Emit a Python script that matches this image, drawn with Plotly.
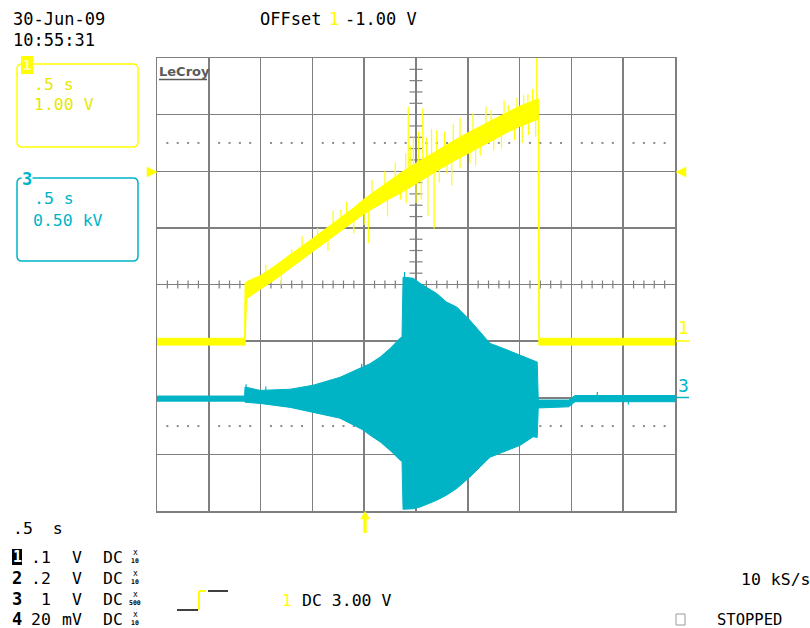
import numpy as np
import plotly.graph_objects as go

# ---------------- data (screen divisions: x -5..5, y -4..4) ----------------
# Channel 1 (yellow) envelope of the trace
yellow_t   = [-5.00, -3.31, -3.30, -3.27, -3.00, -2.75, -2.50, -2.25, -2.00, -1.75, -1.50, -1.25, -1.00, -0.75, -0.50,
              -0.25, 0.00, 0.25, 0.50, 0.75, 1.00, 1.25, 1.50, 1.75, 2.00, 2.20, 2.36, 2.37, 2.385, 5.00]
yellow_top = [-0.95, -0.95, 0.02, 0.05, 0.16, 0.31, 0.48, 0.64, 0.81, 0.98, 1.15, 1.32, 1.51, 1.67, 1.84,
              2.00, 2.14, 2.28, 2.42, 2.55, 2.68, 2.80, 2.92, 3.04, 3.15, 3.22, 3.28, 3.20, -0.95, -0.95]
yellow_bot = [-1.07, -1.07, -1.07, -0.25, -0.08, 0.07, 0.24, 0.40, 0.57, 0.74, 0.91, 1.08, 1.25, 1.39, 1.52,
              1.64, 1.78, 1.92, 2.06, 2.19, 2.32, 2.44, 2.56, 2.68, 2.79, 2.86, 2.92, -1.07, -1.07, -1.07]
# Channel 1 glitches (time, tip)
yellow_spike_t   = [-2.90, -2.40, -2.20, -1.90, -1.60, -1.45, -1.34, -0.85, -0.60, -0.40, -0.20, -0.15, -0.10, -0.05,
                    0.05, 0.13, 0.20, 0.30, 0.40, 0.55, 0.72, 0.85, 1.10, 1.35, 1.45, 1.62, 1.70, 1.78, 1.95, 2.08,
                    2.16, 2.25, 2.33,
                    -2.60, -1.70, -1.20, -1.00, -0.92, -0.55, -0.30, -0.19, 0.00, 0.10, 0.23, 0.35, 0.45, 0.60,
                    0.69, 0.85, 1.04, 1.15, 1.24, 1.50, 1.65, 1.90, 2.05, 2.17, 2.31]
yellow_spike_tip = [0.35, 0.62, 0.85, 1.00, 1.30, 1.32, 1.46, 1.85, 2.00, 2.15, 2.32, 3.14, 2.45, 2.60,
                    2.70, 3.11, 2.60, 2.75, 2.72, 2.70, 2.84, 2.95, 3.02, 3.14, 3.08, 2.99, 3.25, 3.17, 3.30, 3.34,
                    3.36, 3.45, 4.00,
                    0.00, 0.60, 0.90, 1.05, 0.73, 1.20, 1.50, 1.44, 1.44, 1.50, 1.21, 0.99, 1.80, 1.95,
                    1.75, 2.05, 2.14, 2.10, 2.28, 2.37, 2.40, 2.55, 2.50, 2.64, 2.61]

# Channel 3 (cyan) envelope of the trace
cyan_t   = [-5.00, -3.31, -3.30, -3.01, -2.43, -1.99, -1.47, -1.02, -0.89, -0.69, -0.50, -0.31, -0.27, -0.25, -0.05, 0.08, 0.15,
            0.40, 0.59, 0.79, 1.04, 1.24, 1.43, 1.69, 2.01, 2.26, 2.34, 2.36, 2.95, 3.07, 5.00]
cyan_top = [-1.97, -1.97, -1.81, -1.87, -1.85, -1.78, -1.64, -1.46, -1.40, -1.28, -1.13, -0.95, -0.93, 0.13, 0.11, 0.02, -0.02,
            -0.16, -0.31, -0.40, -0.63, -0.84, -1.04, -1.13, -1.25, -1.34, -1.37, -2.04, -2.04, -1.96, -1.96]
cyan_bot = [-2.06, -2.06, -2.08, -2.10, -2.17, -2.26, -2.36, -2.57, -2.66, -2.78, -2.93, -3.10, -3.12, -3.97, -3.96, -3.93, -3.90,
            -3.81, -3.72, -3.60, -3.40, -3.22, -3.05, -2.96, -2.84, -2.69, -2.70, -2.18, -2.16, -2.07, -2.07]
cyan_spike_t   = [-3.28, -2.90, -1.05, -0.22, 2.31, 2.31, 3.50, 4.10]
cyan_spike_tip = [-1.76, -1.80, -1.40, 0.22, -1.37, -2.34, -1.90, -2.12]

# ---------------- styling ----------------
W, H = 810, 628
L, R, T, B = 157, 675, 58, 511
YEL = "#ffff00"
YTXT = "#e8e800"
CYA = "rgb(0,180,198)"
GRID = "#7f7f7f"
MONO = "DejaVu Sans Mono"


def px(x):
    return (x - L) / (R - L)


def py(y):
    return (B - y) / (B - T)


fig = go.Figure()

# graticule: minor ticks on centre axes and dotted cursor rows
minor_x = [k * 0.2 for k in range(-25, 26) if k % 5 != 0]
minor_y = [k * 0.2 for k in range(-20, 21) if k % 5 != 0]
tx, ty = [], []
for v in minor_x:
    tx += [v, v, None]
    ty += [-0.07, 0.07, None]
for v in minor_y:
    tx += [-0.125, 0.125, None]
    ty += [v, v, None]
fig.add_trace(go.Scatter(x=tx, y=ty, mode="lines", line=dict(color=GRID, width=1.2),
                         hoverinfo="skip", showlegend=False))
dx = minor_x + minor_x
dy = [2.5] * len(minor_x) + [-2.5] * len(minor_x)
fig.add_trace(go.Scatter(x=dx, y=dy, mode="markers",
                         marker=dict(symbol="square", size=2, color="#8a8a8a", line=dict(width=0)),
                         hoverinfo="skip", showlegend=False))

# cyan band
fig.add_trace(go.Scatter(x=cyan_t + cyan_t[::-1], y=cyan_top + cyan_bot[::-1], fill="toself",
                         fillcolor=CYA, mode="lines", line=dict(color=CYA, width=1),
                         hoverinfo="skip", showlegend=False))
cmid = [(a + b) / 2 for a, b in zip(cyan_top, cyan_bot)]
sx, sy = [], []
for t, tip in zip(cyan_spike_t, cyan_spike_tip):
    sx += [t, t, None]
    sy += [float(np.interp(t, cyan_t, cmid)), tip, None]
fig.add_trace(go.Scatter(x=sx, y=sy, mode="lines", line=dict(color=CYA, width=1.2),
                         hoverinfo="skip", showlegend=False))

# yellow band
fig.add_trace(go.Scatter(x=yellow_t + yellow_t[::-1], y=yellow_top + yellow_bot[::-1], fill="toself",
                         fillcolor=YEL, mode="lines", line=dict(color=YEL, width=1),
                         hoverinfo="skip", showlegend=False))
ymid = [(a + b) / 2 for a, b in zip(yellow_top, yellow_bot)]
sx, sy = [], []
for t, tip in zip(yellow_spike_t, yellow_spike_tip):
    sx += [t, t, None]
    sy += [float(np.interp(t, yellow_t[3:27], ymid[3:27])), tip, None]
fig.add_trace(go.Scatter(x=sx, y=sy, mode="lines", line=dict(color=YEL, width=1.2),
                         hoverinfo="skip", showlegend=False))

axis_common = dict(showgrid=True, gridcolor=GRID, gridwidth=1.5, zeroline=False,
                   showticklabels=False, ticks="", showline=True, linecolor=GRID,
                   linewidth=1.5, mirror=True, fixedrange=True)
fig.update_xaxes(range=[-5, 5], dtick=1, tick0=0, **axis_common)
fig.update_yaxes(range=[-4, 4], dtick=1, tick0=0, **axis_common)

shapes = []
annots = []


def text(x, y, s, color="black", size=16.5, anchor="left", family=MONO, **kw):
    annots.append(dict(x=px(x), y=py(y), xref="paper", yref="paper", text=s, showarrow=False,
                       xanchor=anchor, yanchor="middle", font=dict(family=family, size=size, color=color),
                       borderpad=0, **kw))


def line(x0, y0, x1, y1, color, width=1.5):
    shapes.append(dict(type="line", xref="paper", yref="paper", x0=px(x0), y0=py(y0), x1=px(x1), y1=py(y1),
                       line=dict(color=color, width=width)))


def rect(x0, y0, x1, y1, fill, color=None, width=0):
    shapes.append(dict(type="rect", xref="paper", yref="paper", x0=px(x0), y0=py(y0), x1=px(x1), y1=py(y1),
                       fillcolor=fill, line=dict(color=color or fill, width=width)))


def poly(pts, fill):
    p = "M" + " L".join(f"{px(a)},{py(b)}" for a, b in pts) + " Z"
    shapes.append(dict(type="path", xref="paper", yref="paper", path=p, fillcolor=fill,
                       line=dict(color=fill, width=0.5)))


def rrect(x0, y0, x1, y1, r, color):
    p = (f"M{px(x0 + r)},{py(y0)} L{px(x1 - r)},{py(y0)} Q{px(x1)},{py(y0)} {px(x1)},{py(y0 + r)} "
         f"L{px(x1)},{py(y1 - r)} Q{px(x1)},{py(y1)} {px(x1 - r)},{py(y1)} L{px(x0 + r)},{py(y1)} "
         f"Q{px(x0)},{py(y1)} {px(x0)},{py(y1 - r)} L{px(x0)},{py(y0 + r)} Q{px(x0)},{py(y0)} {px(x0 + r)},{py(y0)} Z")
    shapes.append(dict(type="path", xref="paper", yref="paper", path=p, line=dict(color=color, width=1.5)))


# header
text(12, 19, "30-Jun-09", size=17)
text(12, 40, "10:55:31", size=17)
text(259, 19, "OFFset", size=17)
text(328, 19, "1", color=YEL, size=17)
text(344, 19, "-1.00 V", size=17)

# channel boxes
rrect(17, 64, 138, 147, 5, YEL)
rect(21, 56, 33, 74, YEL)
text(27, 65, "<b>1</b>", color="#fffbc0", size=14, anchor="center")
text(33, 85, ".5 s", color=YTXT)
text(33, 105, "1.00 V", color=YTXT)

rrect(17, 178, 138, 261, 5, CYA)
text(27, 179, "<b>3</b>", color=CYA, size=17, anchor="center", bgcolor="white")
text(33, 198, ".5 s", color=CYA)
text(32, 220, "0.50 kV", color=CYA)

# LeCroy logo
text(158, 71, "<b>LeCroy</b>", color="#5a5a5a", size=13, family="DejaVu Sans")
line(159, 79.5, 207, 79.5, "#5a5a5a", 1.5)

# offset markers
poly([(147, 167), (157, 172), (147, 177)], YEL)
poly([(686, 167), (676, 172), (686, 177)], YEL)
text(677, 328, "1", color=YEL, size=18)
line(676, 341, 689, 341, YEL)
text(677, 385, "3", color=CYA, size=18)
line(676, 397.5, 689, 397.5, CYA)

# trigger position arrow
poly([(360.5, 519), (365, 511.5), (369.5, 519)], YEL)
rect(363.3, 518, 366.7, 533, YEL)

# bottom status text
text(12, 528, ".5  s")
rows = [(557, ".1", "V", "10"), (578, ".2", "V", "10"), (599, "1", "V", "500"), (619, "20", "mV", "10")]
for i, (yy, val, unit, prb) in enumerate(rows):
    if i == 0:
        rect(12, 549, 22, 565, "black")
        text(17, yy, "<b>1</b>", color="white", size=15, anchor="center")
    else:
        text(17, yy, f"<b>{i + 1}</b>", size=17, anchor="center")
    text(52, yy, val, anchor="right")
    text(83, yy, unit, anchor="right")
    text(102, yy, "DC")
    text(135, yy - 4.5, "x", size=8, anchor="center")
    text(135, yy + 3.5, f"<b>{prb}</b>", size=6.5, anchor="center")

# trigger icon
line(177, 610, 198, 610, "black", 1.5)
line(199, 610, 199, 591, YEL, 2)
line(199, 591, 206, 591, YEL, 2)
line(208, 591, 228, 591, "black", 1.5)
text(281, 600, "1", color=YEL)
text(301, 600, "DC 3.00 V")

text(740, 579, "10 kS/s")
rect(676, 614, 685, 625, "rgba(0,0,0,0)", color="#9a9a9a", width=1)
text(716, 620, "STOPPED", size=15.5)

fig.update_layout(width=W, height=H, margin=dict(l=L, r=W - R, t=T, b=H - B),
                  paper_bgcolor="white", plot_bgcolor="white", showlegend=False,
                  shapes=shapes, annotations=annots)
fig.write_html("out.html", config={"displayModeBar": False, "staticPlot": True},
               post_script="document.body.style.margin='0';document.body.style.overflow='hidden';")
